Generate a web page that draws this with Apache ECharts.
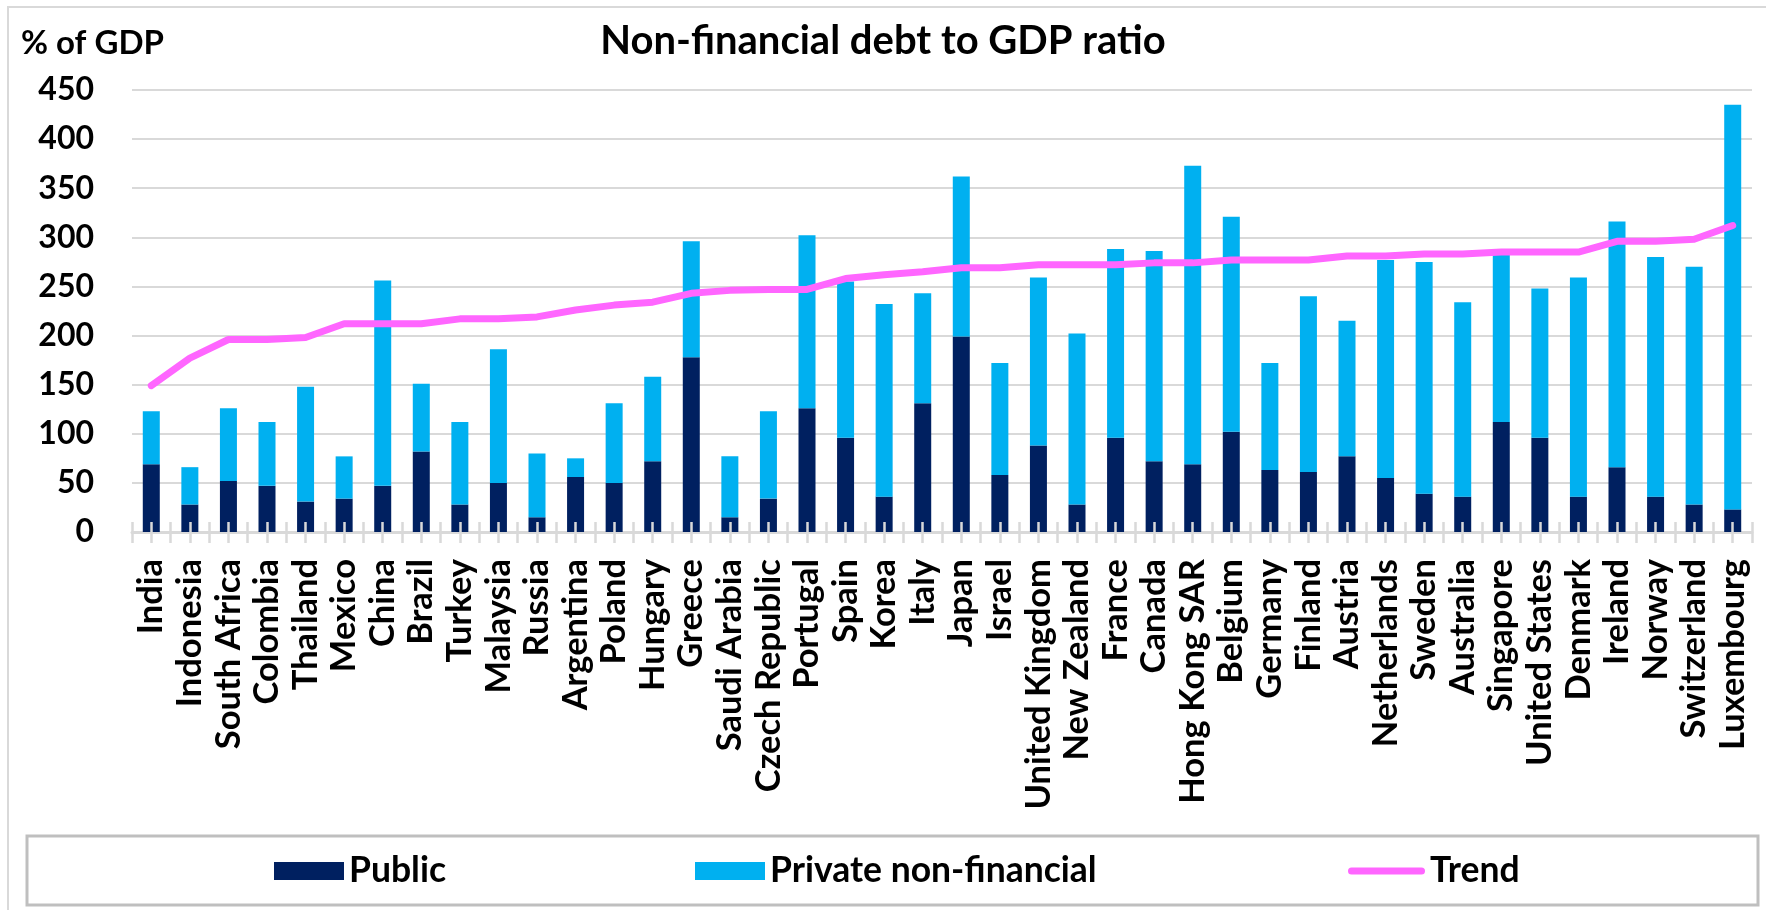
<!DOCTYPE html>
<html>
<head>
<meta charset="utf-8">
<title>Non-financial debt to GDP ratio</title>
<script src="https://cdn.jsdelivr.net/npm/echarts@6/dist/echarts.min.js"></script>
<style>
  html, body { margin: 0; padding: 0; background: #ffffff; }
  #chart { width: 1766px; height: 910px; }
</style>
</head>
<body>
<div id="chart"></div>
<script>
// Countries, ordered by trend level
const countries = ['India', 'Indonesia', 'South Africa', 'Colombia', 'Thailand', 'Mexico', 'China', 'Brazil',
  'Turkey', 'Malaysia', 'Russia', 'Argentina', 'Poland', 'Hungary', 'Greece', 'Saudi Arabia', 'Czech Republic',
  'Portugal', 'Spain', 'Korea', 'Italy', 'Japan', 'Israel', 'United Kingdom', 'New Zealand', 'France', 'Canada',
  'Hong Kong SAR', 'Belgium', 'Germany', 'Finland', 'Austria', 'Netherlands', 'Sweden', 'Australia', 'Singapore',
  'United States', 'Denmark', 'Ireland', 'Norway', 'Switzerland', 'Luxembourg'];

// Public debt, % of GDP
const publicDebt = [69, 28, 52, 47, 31, 34, 47, 82, 28, 50, 15, 56, 50, 72, 178, 15, 34, 126, 96, 36, 131, 199, 58,
  88, 28, 96, 72, 69, 102, 63, 61, 77, 55, 39, 36, 112, 96, 36, 66, 36, 28, 23];

// Private non-financial debt, % of GDP
const privateDebt = [54, 38, 74, 65, 117, 43, 209, 69, 84, 136, 65, 19, 81, 86, 118, 62, 89, 176, 159, 196, 112, 163,
  114, 171, 174, 192, 214, 304, 219, 109, 179, 138, 222, 236, 198, 176, 152, 223, 250, 244, 242, 412];

// Trend line, % of GDP
const trend = [149, 177, 196, 196, 198, 212, 212, 212, 217, 217, 219, 226, 231, 234, 243, 246, 247, 247, 258, 262,
  265, 269, 269, 272, 272, 272, 274, 274, 277, 277, 277, 281, 281, 283, 283, 285, 285, 285, 296, 296, 298, 312];

// Y axis range
const yMin = 0, yMax = 450, yStep = 50;

const FONT = 'Lato';
const NAVY = '#002060';
const SKY = '#00B0F0';
const PINK = '#FF66FF';
const GRID = '#D9D9D9';

const chart = echarts.init(document.getElementById('chart'), null, { renderer: 'canvas' });

const legendText = { fontFamily: FONT, fontWeight: 'bold', fontSize: 35.5, lineHeight: 40, color: '#000' };
const rectIcon = 'path://M0,0 L70,0 L70,18 L0,18 Z';
// rounded stroke centred in the same box (the two moves fix the bounding box)
const lineIcon = 'path://M0,0 M77,18 M3.5,5.5 L73.5,5.5 A3.5,3.5 0 0 1 73.5,12.5 L3.5,12.5 A3.5,3.5 0 0 1 3.5,5.5 Z';

// tick axis that marks each category edge and centre, crossing the base line
function tickAxis(inside, len) {
  return {
    type: 'value', position: 'bottom', min: 0, max: countries.length, interval: 0.5,
    z: 10, axisLine: { show: false }, axisLabel: { show: false }, splitLine: { show: false },
    axisTick: { show: true, inside: inside, length: len, lineStyle: { color: GRID, width: 2.5 } }
  };
}

chart.setOption({
  animation: false,
  backgroundColor: '#ffffff',
  title: [
    {
      text: 'Non-financial debt to GDP ratio', left: 'center', top: 17, padding: 0,
      textStyle: { fontFamily: FONT, fontWeight: 'bold', fontSize: 40, lineHeight: 48, color: '#000' }
    },
    {
      text: '% of GDP', left: 21, top: 23, padding: 0,
      textStyle: { fontFamily: FONT, fontWeight: 'bold', fontSize: 33, lineHeight: 40, color: '#000' }
    }
  ],
  graphic: [
    {
      type: 'rect', silent: true, z: -1,
      shape: { x: 8, y: 7, width: 1800, height: 960 },
      style: { fill: 'none', stroke: GRID, lineWidth: 2 }
    },
    {
      type: 'rect', silent: true, z: -1,
      shape: { x: 27, y: 836, width: 1731, height: 69 },
      style: { fill: 'none', stroke: '#BFBFBF', lineWidth: 3 }
    }
  ],
  legend: [
    { data: [{ name: 'Public', icon: rectIcon }], left: 274, top: 851, padding: 0, itemWidth: 70, itemHeight: 18, itemGap: 0, textStyle: legendText, selectedMode: false },
    { data: [{ name: 'Private non-financial', icon: rectIcon }], left: 695, top: 851, padding: 0, itemWidth: 70, itemHeight: 18, itemGap: 0, textStyle: legendText, selectedMode: false },
    { data: [{ name: 'Trend', icon: lineIcon, itemStyle: { color: PINK } }], left: 1348, top: 851, padding: 0, itemWidth: 77, itemHeight: 18, itemGap: 0, textStyle: legendText, selectedMode: false }
  ],
  grid: { left: 132, right: 14, top: 90, bottom: 378, containLabel: false },
  xAxis: [
    {
      type: 'category', data: countries, position: 'bottom',
      axisLine: { show: true, lineStyle: { color: GRID, width: 3 } },
      axisTick: { show: false },
      axisLabel: {
        interval: 0, rotate: 90, margin: 27,
        fontFamily: FONT, fontWeight: 'bold', fontSize: 34.5, color: '#000'
      },
      splitLine: { show: false }
    },
    tickAxis(false, 11),
    tickAxis(true, 10)
  ],
  yAxis: {
    type: 'value', min: yMin, max: yMax, interval: yStep,
    axisLine: { show: false }, axisTick: { show: false },
    axisLabel: { margin: 38, fontFamily: FONT, fontWeight: 'bold', fontSize: 32, color: '#000' },
    splitLine: { show: true, lineStyle: { color: GRID, width: 2 } }
  },
  series: [
    {
      name: 'Public', type: 'bar', stack: 'debt', data: publicDebt, barWidth: 17,
      itemStyle: { color: NAVY }
    },
    {
      name: 'Private non-financial', type: 'bar', stack: 'debt', data: privateDebt, barWidth: 17,
      itemStyle: { color: SKY }
    },
    {
      name: 'Trend', type: 'line', data: trend, z: 5,
      showSymbol: false, symbol: 'none',
      lineStyle: { color: PINK, width: 7, cap: 'round', join: 'round' },
      itemStyle: { color: PINK }
    }
  ]
});
</script>
</body>
</html>
